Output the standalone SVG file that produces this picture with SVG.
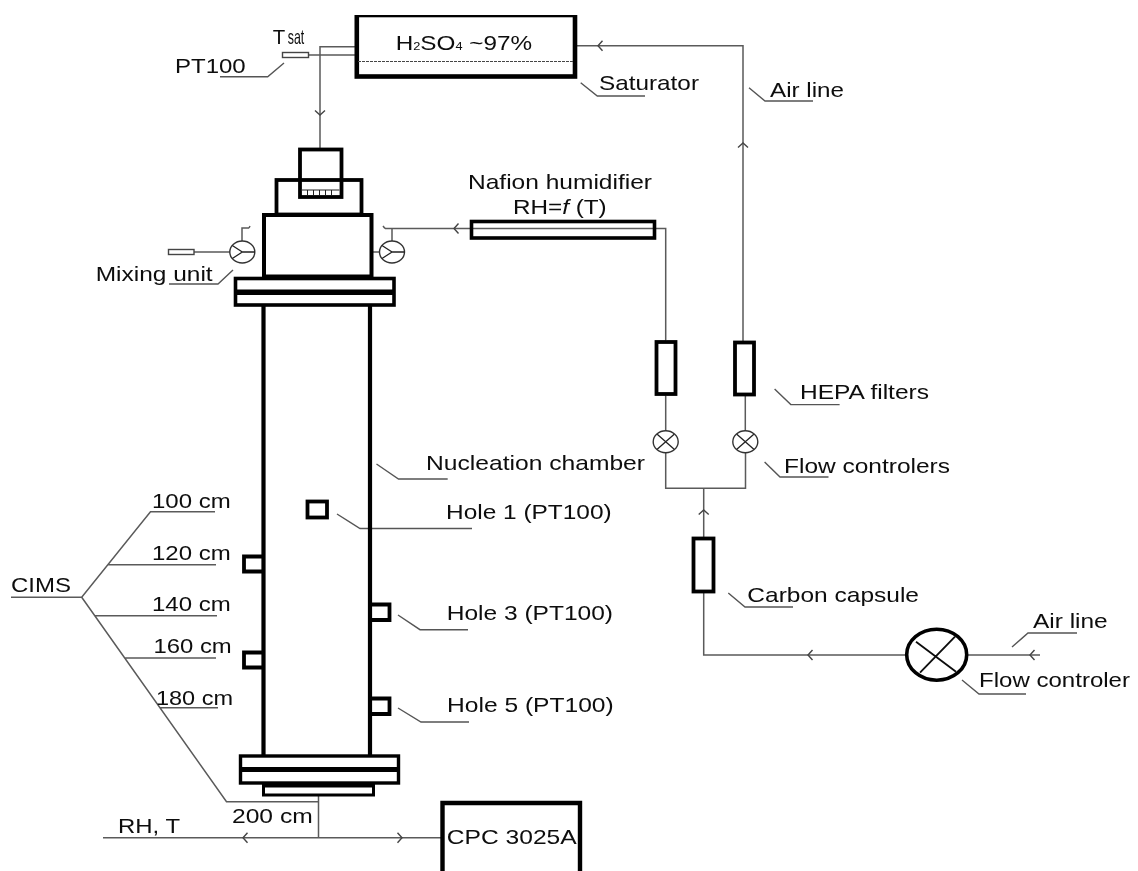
<svg xmlns="http://www.w3.org/2000/svg" width="1138" height="871" viewBox="0 0 1138 871">
<style>
.b{fill:none;stroke:#050505;stroke-width:3.8}
.bf{fill:#050505}
.t{fill:none;stroke:#5a5a5a;stroke-width:1.5}
.v{fill:#fff;stroke:#333;stroke-width:1.4}
.x{fill:none;stroke:#222;stroke-width:1.3}
.c{fill:none;stroke:#555;stroke-width:1.4}
text{font-family:"Liberation Sans",Arial,sans-serif;font-size:21px;fill:#0c0c0c}
</style>
<defs>
<filter id="soft" x="0" y="0" width="100%" height="100%"><feGaussianBlur stdDeviation="0.4"/></filter>
<path id="chev" d="M4.5,-5 L0,0 L4.5,5" fill="none" stroke="#444" stroke-width="1.4"/>
<g id="valve"><ellipse rx="12.5" ry="11" class="v"/><path class="x" d="M-8.5,-7.5 L8.5,7.5 M8.5,-7.5 L-8.5,7.5"/></g>
<g id="tee"><ellipse rx="12.5" ry="11" class="v"/><path class="x" d="M-10,-6.5 L0,0 L-10,6.5 M0,0 H12.5"/></g>
</defs>
<rect width="1138" height="871" fill="#fff"/>
<g filter="url(#soft)">
<g id="connectors">
<path class="t" d="M320,149 V46.7 H355 M309,55 H355"/>
<use href="#chev" transform="translate(320,115) rotate(-90)"/>
<path class="t" d="M385,228.5 H665.7 V342"/>
<path class="t" d="M383,226 L385,228.5 M392,241 V228.5"/>
<use href="#chev" transform="translate(454,228.5)"/>
<path class="t" d="M371,252 H379.5"/>
<path class="t" d="M194,252 H230 M242,241 V228 H249 M249,228 L250,226"/>
<path class="t" d="M665.7,394 V431 M665.7,453 V488.3 H745.5 V453 M745.3,431 V395"/>
<path class="t" d="M743,342 V45.7 H577"/>
<use href="#chev" transform="translate(598,45.7)"/>
<use href="#chev" transform="translate(743,143) rotate(90)"/>
<path class="t" d="M703.7,488.3 V538 M703.7,592 V655 H906 M968,655 H1040"/>
<use href="#chev" transform="translate(703.7,510) rotate(90)"/>
<use href="#chev" transform="translate(808,655)"/>
<use href="#chev" transform="translate(1030,655)"/>
<path class="t" d="M318.5,796 V837.7 M103,837.7 H441"/>
<use href="#chev" transform="translate(243,837.7)"/>
<use href="#chev" transform="translate(402,837.7) rotate(180)"/>
<path class="t" d="M11,597.3 H81.7 L150.5,511.7 H215 M108,564.7 H216 M81.7,597.3 L226.5,801.7 H318.5 M95,615.7 H217 M125,658 H216 M160,707.7 H218"/>
<path class="c" d="M220,76.7 H267.7 L284,63"/>
<path class="c" d="M169,284 H218 L233,270"/>
<path class="c" d="M580.7,82.7 L597.3,96 H645"/>
<path class="c" d="M749,87.7 L765,101 H813"/>
<path class="c" d="M376.5,464 L398.5,479 H447.7"/>
<path class="c" d="M774.6,389 L790.8,404.6 H839.6"/>
<path class="c" d="M764.6,462 L780,477 H828.5"/>
<path class="c" d="M728.3,593 L745,607 H793"/>
<path class="c" d="M1012,647 L1028,633 H1077"/>
<path class="c" d="M962,680 L979,694 H1026"/>
<path class="c" d="M337,514 L360,528.5 H472"/>
<path class="c" d="M398,615 L420,629.7 H468"/>
<path class="c" d="M398,708 L421,722 H469"/>
</g>
<g id="saturator">
<rect class="b" style="stroke-width:4.6" x="356.8" y="15" width="218.2" height="61.5"/>
<path d="M358,61.5 H574" fill="none" stroke="#444" stroke-width="1.1" stroke-dasharray="3 1"/>
<text x="395.7" y="50" font-size="22" textLength="136.3" lengthAdjust="spacingAndGlyphs">H<tspan font-size="11">2</tspan>SO<tspan font-size="11">4</tspan> ~97%</text>
<text x="599" y="90" textLength="100" lengthAdjust="spacingAndGlyphs">Saturator</text>
</g>
<g id="pt100-sat">
<rect x="282.5" y="52.5" width="26" height="5" fill="#fff" stroke="#444" stroke-width="1.4"/>
<text x="272.7" y="44" font-size="22" textLength="12.5" lengthAdjust="spacingAndGlyphs">T</text>
<text x="287.7" y="44" font-size="11" textLength="16.5" lengthAdjust="spacingAndGlyphs">sat</text>
<text x="175" y="73" textLength="70.7" lengthAdjust="spacingAndGlyphs">PT100</text>
</g>
<g id="mixing-unit">
<rect class="b" x="300" y="149.5" width="41.5" height="47.5"/>
<rect class="b" x="276.5" y="180" width="85" height="34.5"/>
<path d="M301.5,190 H339.5 M307.5,190 V195 M313.5,190 V195 M319.5,190 V195 M325.5,190 V195 M331.5,190 V195" fill="none" stroke="#222" stroke-width="1"/>
<rect class="b" style="stroke-width:4" x="264" y="215" width="107.5" height="61.5"/>
<rect x="235.5" y="278.5" width="158.5" height="26.5" fill="none" stroke="#050505" stroke-width="3.6"/>
<rect class="bf" x="234" y="289.5" width="161" height="5.5"/>
<use href="#tee" transform="translate(242.3,252)"/>
<use href="#tee" transform="translate(392,252)"/>
<rect x="168.5" y="249.5" width="25.5" height="5" fill="#fff" stroke="#444" stroke-width="1.4"/>
<text x="95.7" y="280.7" textLength="117" lengthAdjust="spacingAndGlyphs">Mixing unit</text>
</g>
<g id="chamber">
<path d="M263.5,305 V756 M370,305 V756" fill="none" stroke="#050505" stroke-width="4.2"/>
<rect x="240.5" y="756" width="158" height="27" fill="none" stroke="#050505" stroke-width="3.4"/>
<rect class="bf" x="239" y="767" width="161" height="5"/>
<rect class="bf" x="262" y="782" width="113" height="5"/>
<rect x="263.5" y="786" width="110" height="9" fill="none" stroke="#050505" stroke-width="3"/>
<text x="426" y="469.6" textLength="219" lengthAdjust="spacingAndGlyphs">Nucleation chamber</text>
</g>
<g id="holes">
<path class="b" d="M263,556.5 H244 V571.5 H263"/>
<path class="b" d="M263,652.5 H244 V667.5 H263"/>
<rect class="b" x="307.5" y="501.5" width="19.5" height="16"/>
<path class="b" d="M371,604.5 H389.5 V620 H371"/>
<path class="b" d="M371,698.5 H389.5 V714 H371"/>
<text x="446" y="519.3" textLength="165.7" lengthAdjust="spacingAndGlyphs">Hole 1 (PT100)</text>
<text x="446.7" y="620" textLength="166.3" lengthAdjust="spacingAndGlyphs">Hole 3 (PT100)</text>
<text x="447" y="712.3" textLength="166.7" lengthAdjust="spacingAndGlyphs">Hole 5 (PT100)</text>
</g>
<g id="cims">
<text x="11" y="591.7" textLength="60" lengthAdjust="spacingAndGlyphs">CIMS</text>
<text x="152" y="507.7" textLength="78.7" lengthAdjust="spacingAndGlyphs">100 cm</text>
<text x="152" y="560" textLength="78.7" lengthAdjust="spacingAndGlyphs">120 cm</text>
<text x="152" y="611" textLength="78.7" lengthAdjust="spacingAndGlyphs">140 cm</text>
<text x="153.5" y="653" textLength="78.2" lengthAdjust="spacingAndGlyphs">160 cm</text>
<text x="156" y="705" textLength="77" lengthAdjust="spacingAndGlyphs">180 cm</text>
<text x="232" y="822.7" textLength="80.7" lengthAdjust="spacingAndGlyphs">200 cm</text>
<text x="118" y="833" textLength="62" lengthAdjust="spacingAndGlyphs">RH, T</text>
</g>
<g id="cpc">
<path d="M442.5,875 V803 H580 V875" fill="none" stroke="#050505" stroke-width="4.4"/>
<text x="446.7" y="844.3" textLength="130" lengthAdjust="spacingAndGlyphs">CPC 3025A</text>
</g>
<g id="humidifier">
<rect x="471.5" y="221.5" width="183" height="16.5" fill="none" stroke="#050505" stroke-width="3.6"/>
<text x="468" y="189.3" textLength="184" lengthAdjust="spacingAndGlyphs">Nafion humidifier</text>
<text x="513" y="214" textLength="93.7" lengthAdjust="spacingAndGlyphs">RH=<tspan font-style="italic">f</tspan> (T)</text>
</g>
<g id="hepa">
<rect class="b" x="656.5" y="342" width="19" height="52"/>
<rect class="b" x="735" y="342.5" width="19" height="52"/>
<text x="800" y="399" textLength="129" lengthAdjust="spacingAndGlyphs">HEPA filters</text>
</g>
<g id="flow-controllers">
<use href="#valve" transform="translate(665.7,441.7)"/>
<use href="#valve" transform="translate(745.3,441.7)"/>
<text x="784" y="472.7" textLength="166" lengthAdjust="spacingAndGlyphs">Flow controlers</text>
</g>
<g id="carbon-capsule">
<rect class="b" x="693.5" y="538.5" width="20" height="53"/>
<text x="747.3" y="601.7" textLength="171.7" lengthAdjust="spacingAndGlyphs">Carbon capsule</text>
</g>
<g id="main-flow-controller">
<ellipse cx="936.7" cy="654.7" rx="30" ry="25.5" fill="#fff" stroke="#050505" stroke-width="3.6"/>
<path d="M916,641.7 L956,671.7 M955,636.7 L920,672.7" fill="none" stroke="#111" stroke-width="1.9"/>
<text x="979" y="686.7" textLength="151" lengthAdjust="spacingAndGlyphs">Flow controler</text>
</g>
<g id="air-lines">
<text x="770" y="96.7" textLength="74" lengthAdjust="spacingAndGlyphs">Air line</text>
<text x="1033" y="628" textLength="74.7" lengthAdjust="spacingAndGlyphs">Air line</text>
</g>
</g>
</svg>
